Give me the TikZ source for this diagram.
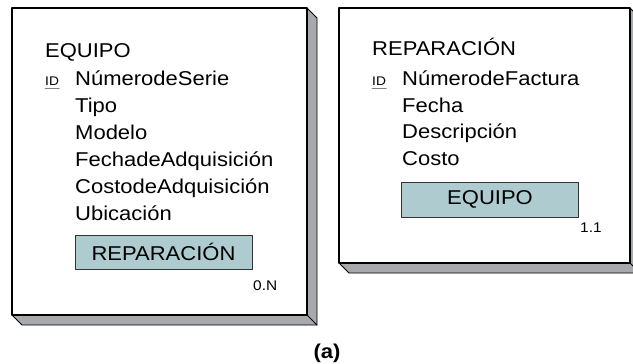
\documentclass[tikz,border=0pt]{standalone}
\usepackage{fontspec}
\setmainfont[FakeStretch=1.1]{Liberation Sans}
\usepackage{xcolor}
\usetikzlibrary{positioning}
\definecolor{shadegray}{HTML}{A7A9AC}
\definecolor{keyfill}{HTML}{AECBD0}
\tikzset{
  card/.style={draw, fill=white, line width=1.3pt},
  cardshade/.style={draw, fill=shadegray, line width=0.9pt},
  ent/.style={anchor=base west, inner sep=0pt, font=\fontsize{20}{24}\selectfont},
  attr/.style={ent},
  idtag/.style={anchor=base west, inner sep=0pt, font=\fontsize{12.5}{14}\selectfont},
  keybox/.style={draw=black!80, fill=keyfill, line width=0.9pt, minimum width=177pt,
    minimum height=34pt, inner sep=0pt, font=\fontsize{20}{24}\selectfont},
  cardinality/.style={anchor=base west, inner sep=0pt, font=\fontsize{14}{16}\selectfont},
  every picture/.style={line cap=round, line join=round}
}

\begin{document}
\begin{tikzpicture}[x=1pt,y=-1pt]
  \useasboundingbox (0,0) rectangle (633,364);
  % the two cards, each with its shadow
  \foreach \xa/\ya/\xb/\yb in {12/8/307/315, 339/8/630/263}{
    \draw[cardshade] (\xb,\ya) -- (\xb+10,\ya+10) -- (\xb+10,\yb+10) -- (\xa+10,\yb+10) -- (\xa,\yb) -- cycle;
    \draw[cardshade] (\xb,\yb) -- (\xb+10,\yb+10);
    \draw[card] (\xa,\ya) rectangle (\xb,\yb);
  }
  % EQUIPO
  \node[ent] (equipo) at (45,57) {EQUIPO};
  \node[idtag] (id1) at (45,85) {ID};
  \draw[gray, line width=0.8pt] ([yshift=-3.5pt]id1.base west) -- ([yshift=-3.5pt]id1.base east);
  \node[attr] (serie) at (75,85) {NúmerodeSerie};
  \node[attr] (tipo) at (75,112) {Tipo};
  \node[attr] (modelo) at (75,139) {Modelo};
  \node[attr] (fecha1) at (75,166) {FechadeAdquisición};
  \node[attr] (costo1) at (75,193) {CostodeAdquisición};
  \node[attr] (ubic) at (75,220) {Ubicación};
  \node[keybox] (rep) at (163.5,252) {REPARACIÓN};
  \node[cardinality] (repcard) at (253,290) {0.N};
  % REPARACION
  \node[ent] (reparacion) at (372,55) {REPARACIÓN};
  \node[idtag] (id2) at (372,85) {ID};
  \draw[gray, line width=0.8pt] ([yshift=-3.5pt]id2.base west) -- ([yshift=-3.5pt]id2.base east);
  \node[attr] (factura) at (402,85) {NúmerodeFactura};
  \node[attr] (fecha2) at (402,112) {Fecha};
  \node[attr] (descr) at (402,138) {Descripción};
  \node[attr] (costo2) at (402,165) {Costo};
  \node[keybox, minimum height=35pt] (equ) at (490,199.5) {EQUIPO};
  \node[cardinality] (equcard) at (580,232) {1.1};
  \node[anchor=base, inner sep=0pt, font=\bfseries\fontsize{20}{24}\selectfont] (cap) at (327,358) {(a)};
\end{tikzpicture}
\end{document}
